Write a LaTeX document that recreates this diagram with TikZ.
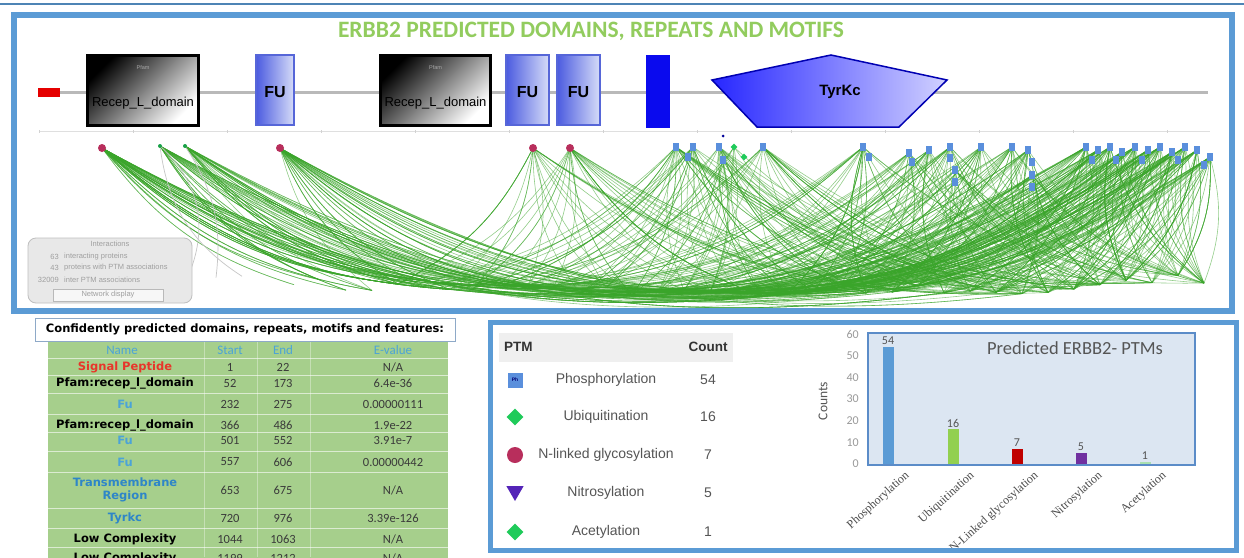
\documentclass[tikz,border=0pt]{standalone}
\usepackage{fontspec}
\setmainfont{Liberation Sans}
\newfontfamily\calfont{Carlito}
\newfontfamily\timesfont{Liberation Serif}
\newfontfamily\widefont{DejaVu Sans}
\usetikzlibrary{shapes.geometric}
\definecolor{frameblue}{HTML}{5B9BD5}
\definecolor{titlegreen}{HTML}{92CC5E}
\definecolor{netgreen}{HTML}{3AA52A}
\definecolor{tabgreen}{HTML}{A6CF8C}
\definecolor{lnkblue}{HTML}{4BA3D8}
\definecolor{tmblue}{HTML}{2E86C8}
\definecolor{sigred}{HTML}{E8352A}
\definecolor{numgray}{HTML}{3A3A3A}
\definecolor{ptmgray}{HTML}{555555}
\definecolor{hdrgray}{HTML}{EFEFEF}
\definecolor{plotfill}{HTML}{DCE6F2}
\definecolor{plotedge}{HTML}{5B8CC8}
\definecolor{barblue}{HTML}{5B9BD5}
\definecolor{bargreen}{HTML}{92D050}
\definecolor{barred}{HTML}{C00000}
\definecolor{barpurple}{HTML}{7030A0}
\definecolor{barlight}{HTML}{A9E0B0}
\definecolor{glyred}{HTML}{B82E5C}
\definecolor{phblue}{HTML}{5A8FDC}
\definecolor{ubgreen}{HTML}{1FCB5A}
\definecolor{tmrect}{HTML}{0A0AEE}
\definecolor{fuleft}{HTML}{4B5BE0}
\definecolor{furight}{HTML}{D6DCF8}
\definecolor{fuedge}{HTML}{5666D8}
\definecolor{capedge}{HTML}{8EA9C8}
\tikzset{
 topline/.style={draw=frameblue!85!black, line width=2pt},
 panel/.style={draw=frameblue, line width=6pt},
 ttlstyle/.style={text=titlegreen, font=\calfont\bfseries\fontsize{23.5pt}{24pt}\selectfont, inner sep=0pt},
 backbone/.style={draw=gray!55, line width=3pt},
 recep/.style={draw=black, line width=3pt, top color=black, bottom color=white, shading angle=45, minimum height=70pt, inner sep=0pt},
 fubox/.style={draw=fuedge, line width=2pt, left color=fuleft, right color=furight, minimum height=70pt, inner sep=0pt},
 domtxt/.style={inner sep=0pt, font=\fontsize{13pt}{13pt}\selectfont},
 futxt/.style={inner sep=0pt, font=\bfseries\fontsize{16pt}{16pt}\selectfont},
 pfamtxt/.style={inner sep=0pt, text=gray!70, font=\fontsize{5.5pt}{5.5pt}\selectfont},
 net/.style={draw=netgreen, opacity=0.55, line width=0.6pt},
 netgray/.style={draw=gray!45, line width=0.7pt},
 glymark/.style={circle, fill=glyred, minimum size=8pt, inner sep=0pt},
 ubmark/.style={circle, fill=ubgreen!80!black, minimum size=4pt, inner sep=0pt},
 phmark/.style={rectangle, fill=phblue, minimum width=6pt, minimum height=8pt, inner sep=0pt},
 dmmark/.style={diamond, fill=ubgreen, minimum size=7pt, inner sep=0pt},
 ibox/.style={draw=gray!50, fill=gray!18, rounded corners=8pt, line width=0.8pt},
 itxt/.style={inner sep=0pt, text=gray!75, font=\fontsize{7.5pt}{7.5pt}\selectfont},
 tabname/.style={inner sep=0pt, font=\widefont\bfseries\fontsize{11.5pt}{13pt}\selectfont, align=center},
 tabnum/.style={inner sep=0pt, text=numgray, font=\calfont\fontsize{12.5pt}{13pt}\selectfont},
 tabhdr/.style={inner sep=0pt, text=lnkblue, font=\calfont\fontsize{13pt}{13pt}\selectfont},
 ptmtxt/.style={inner sep=0pt, text=ptmgray, font=\fontsize{14pt}{14pt}\selectfont},
 ptmhdr/.style={inner sep=0pt, text=black!80, font=\bfseries\fontsize{13.5pt}{14pt}\selectfont},
 ticklab/.style={inner sep=0pt, anchor=east, text=gray!80, font=\calfont\fontsize{12pt}{12pt}\selectfont},
 barlab/.style={inner sep=0pt, text=ptmgray, font=\calfont\fontsize{12pt}{12pt}\selectfont},
 xlab/.style={inner sep=0pt, anchor=north east, rotate=42, text=black!70, font=\timesfont\fontsize{12pt}{12pt}\selectfont},
}
\begin{document}
\begin{tikzpicture}[x=1pt,y=-1pt]
\useasboundingbox (0,0) rectangle (1244,557);
\fill[white] (0,0) rectangle (1244,557);
\coordinate (tlL) at (0,4); \coordinate (tlR) at (1244,4);
\draw[topline] (tlL) -- (tlR);

% ---------- top panel ----------
\fill[white] (14,15) rectangle (1232,311);
\node[ttlstyle] (ttl) at (591,31) {ERBB2 PREDICTED DOMAINS, REPEATS AND MOTIFS};

% ruler
\coordinate (rulL) at (40,131); \coordinate (rulR) at (1210,131);
\draw[gray!25, line width=0.5pt] (rulL) -- (rulR);
\foreach \t in {39,133,...,1210} \draw[gray!35, line width=0.5pt] (\t,130) -- (\t,133);

% backbone
\coordinate (bbL) at (60,92); \coordinate (bbR) at (1208,92);
\draw[backbone] (bbL) -- (bbR);
\node[fill=red!90!black, minimum width=22pt, minimum height=9pt, inner sep=0pt] (sig) at (49,92) {};

\node[recep, minimum width=111pt] (rec1) at (143,90) {};
\node[pfamtxt] (pf1) at (143,68) {Pfam};
\node[domtxt] (rl1) at (143,103) {Recep\_L\_domain};
\node[recep, minimum width=110pt] (rec2) at (435.5,90) {};
\node[pfamtxt] (pf2) at (435.5,68) {Pfam};
\node[domtxt] (rl2) at (435.5,103) {Recep\_L\_domain};

\node[fubox, minimum width=38pt] (fu1) at (275,90) {};
\node[futxt] (fut1) at (275,92) {FU};
\node[fubox, minimum width=43pt] (fu2) at (527.5,90) {};
\node[futxt] (fut2) at (527.5,92) {FU};
\node[fubox, minimum width=43pt] (fu3) at (578.5,90) {};
\node[futxt] (fut3) at (578.5,92) {FU};

\node[fill=tmrect, minimum width=24pt, minimum height=73pt, inner sep=0pt] (tm) at (658,91.5) {};

\shade[left color=blue!85, right color=blue!18, draw=blue!70!black, line width=1.5pt]
  (712,80) -- (831,55) -- (947,80) -- (899,127) -- (757,127) -- cycle;
\node[futxt, font=\bfseries\fontsize{15pt}{15pt}\selectfont] (tyr) at (840,92) {TyrKc};

% ---------- network ----------
\pgfmathsetseed{1234}
\foreach \j in {1,...,40}{
  \pgfmathsetmacro\bx{190+26*(\j-1)}
  \pgfmathsetmacro\by{268+20*sin((\bx-150)*0.1565)+12*rnd}
  \coordinate (b\j) at (\bx,\by);
}
\foreach \i/\sx/\sy/\k/\lo/\hi in {
 1/102/148/64/5/27, 2/160/146/36/6/30, 3/185/146/36/7/30, 4/280/148/46/8/33,
 5/533/148/20/8/34, 6/570/148/28/9/36, 7/676/147/30/8/38, 8/693/147/24/9/38,
 9/719/147/22/10/40, 10/723/160/12/12/36, 11/734/147/8/14/38, 12/763/147/24/10/40,
 13/863/147/28/10/40, 14/909/153/20/12/40, 15/929/150/20/12/40, 16/950/147/22/12/40,
 17/955/170/16/16/40, 18/981/147/22/12/40, 19/1012/147/22/12/40, 20/1028/150/24/14/40,
 21/1032/175/20/16/40, 22/1086/147/28/10/40, 23/1098/150/26/10/40, 24/1110/147/28/12/40,
 25/1122/152/26/12/40, 26/1135/147/28/12/40, 27/1148/150/26/14/40, 28/1160/147/28/14/40,
 29/1172/152/26/16/40, 30/1185/147/26/16/40, 31/1197/150/26/18/40, 32/1210/157/28/20/40}{
  \coordinate (s\i) at (\sx,\sy);
  \foreach \m in {1,...,\k}{
    \pgfmathrandominteger{\jj}{\lo}{\hi}
    \pgfmathsetmacro\tx{190+26*(\jj-1)}
    \pgfmathsetmacro\bd{ifthenelse(\tx>\sx,18,-18)}
    \draw[net] (s\i) to[bend right=\bd] (b\jj);
  }
}
\draw[netgray] (s2) to[bend left=35] (b1);
\draw[netgray] (s3) to[bend left=20] (b2);
\draw[netgray] (s2) to[bend right=25] (b3);

% markers
\foreach \i in {1,4,5,6} \node[glymark] (g\i) at (s\i) {};
\foreach \i in {2,3} \node[ubmark] (u\i) at (s\i) {};
\foreach \i in {7,8,9,10,12,13,14,15,16,17,18,19,20,21,22,23,24,25,26,27,28,29,30,31,32}
  \node[phmark] (p\i) at (s\i) {};
\foreach \n/\x/\y in {e1/950/158, e2/1032/162, e3/1032/187, e4/955/182, e5/1092/160, e6/1116/160,
  e7/1142/160, e8/1178/160, e9/1204/165, e10/869/157, e11/688/157, e12/912/162}
  \node[phmark] (\n) at (\x,\y) {};
\node[dmmark] (d1) at (s11) {};
\node[dmmark] (d2) at (744,157) {};
\node[circle, fill=blue!60!black, minimum size=3pt, inner sep=0pt] (dd) at (723,136) {};

% interactions box
\node[ibox, minimum width=164pt, minimum height=65pt] (ibx) at (110,270.5) {};
\node[itxt] (it0) at (110,244) {Interactions};
\node[itxt, anchor=east] (in1) at (59,257) {63};
\node[itxt, anchor=west] (it1) at (64,257) {interacting proteins};
\node[itxt, anchor=east] (in2) at (59,268) {43};
\node[itxt, anchor=west] (it2) at (64,268) {proteins with PTM associations};
\node[itxt, anchor=east] (in3) at (59,280) {32009};
\node[itxt, anchor=west] (it3) at (64,280) {inter PTM associations};
\node[draw=gray!55, fill=gray!6, minimum width=110pt, minimum height=12pt, inner sep=0pt, itxt] (nbtn) at (108,295) {Network display};

\draw[panel] (14,15) rectangle (1232,311);

% ---------- bottom left ----------
\fill[tabgreen] (48,341) rectangle (448,560);
\foreach \yy in {358.5,375,393.5,414.5,432.5,451,472,508,528.5,547}
  \draw[white, opacity=0.6, line width=0.8pt] (48,\yy) -- (448,\yy);
\foreach \xx in {204,257,310}
  \draw[white, opacity=0.35, line width=0.6pt] (\xx,341) -- (\xx,557);
\node[draw=capedge, fill=white, minimum width=420pt, minimum height=23pt, inner sep=0pt,
  font=\widefont\bfseries\fontsize{11.5pt}{12pt}\selectfont] (cap) at (245,329.5)
  {Confidently predicted domains, repeats, motifs and features:};

\node[tabhdr] (h1) at (122,350) {Name};
\node[tabhdr] (h2) at (230,350) {Start};
\node[tabhdr] (h3) at (283,350) {End};
\node[tabhdr] (h4) at (393,350) {E-value};
\foreach \r/\y/\nm/\col/\st/\en/\ev in {
  1/367/Signal Peptide/sigred/1/22/N\slash A,
  2/383/Pfam:recep\_l\_domain/black/52/173/6.4e-36,
  3/404/Fu/lnkblue/232/275/0.00000111,
  4/425/Pfam:recep\_l\_domain/black/366/486/1.9e-22,
  5/440/Fu/lnkblue/501/552/3.91e-7,
  6/462/Fu/lnkblue/557/606/0.00000442,
  7/490/Transmembrane\\Region/tmblue/653/675/N\slash A,
  8/518/Tyrkc/tmblue/720/976/3.39e-126,
  9/539/Low Complexity/black/1044/1063/N\slash A,
  10/558/Low Complexity/black/1199/1212/N\slash A}{
  \node[tabname, text=\col] (rn\r) at (125,\y) {\nm};
  \node[tabnum] (rs\r) at (230,\y) {\st};
  \node[tabnum] (re\r) at (283,\y) {\en};
  \node[tabnum] (rv\r) at (393,\y) {\ev};
}

% ---------- bottom right ----------
\fill[white] (490,322) rectangle (1236,550);
\fill[hdrgray] (499,333) rectangle (733,362);
\node[ptmhdr, anchor=west] (ph0) at (504,347) {PTM};
\node[ptmhdr] (pc0) at (708,347) {Count};
\node[rectangle, fill=phblue, minimum size=15pt, inner sep=0pt, text=blue!45!black,
  font=\bfseries\fontsize{5pt}{5pt}\selectfont] (iph) at (515,380) {Ph};
\node[diamond, fill=ubgreen, minimum size=17pt, inner sep=0pt] (iub) at (515,417) {};
\node[circle, fill=glyred, minimum size=16pt, inner sep=0pt] (igl) at (515,455) {};
\node[regular polygon, regular polygon sides=3, shape border rotate=180, fill=barpurple!75!blue,
  minimum size=20pt, inner sep=0pt] (ini) at (515,491) {};
\node[diamond, fill=ubgreen, minimum size=17pt, inner sep=0pt] (iac) at (515,532) {};
\foreach \r/\y/\lab/\c in {1/380/Phosphorylation/54, 2/417/Ubiquitination/16,
  3/455/N-linked glycosylation/7, 4/493/Nitrosylation/5, 5/532/Acetylation/1}{
  \node[ptmtxt] (pl\r) at (606,\y) {\lab};
  \node[ptmtxt] (pn\r) at (708,\y) {\c};
}

% chart
\node[draw=plotedge, fill=plotfill, line width=1.5pt, minimum width=327pt, minimum height=132pt, inner sep=0pt] (plot) at (1031.5,399) {};
\foreach \v in {0,10,...,60}
  \node[ticklab] (yt\v) at (859,{464-\v*130/60}) {\v};
\node[rotate=90, text=ptmgray, inner sep=0pt, font=\calfont\fontsize{13.5pt}{14pt}\selectfont] (cnt) at (823,401) {Counts};
\node[text=ptmgray, inner sep=0pt, font=\calfont\fontsize{18.5pt}{19pt}\selectfont] (ctt) at (1075,348) {Predicted ERBB2- PTMs};
\foreach \n/\cx/\v/\col/\lab in {1/888/54/barblue/Phosphorylation, 2/953/16/bargreen/Ubiquitination,
  3/1017/7/barred/N-Linked glycosylation, 4/1081/5/barpurple/Nitrosylation, 5/1145/1/barlight/Acetylation}{
  \fill[\col] ({\cx-5.5},464) rectangle ({\cx+5.5},{464-\v*130/60});
  \node[barlab, anchor=south] (bv\n) at (\cx,{462-\v*130/60}) {\v};
  \node[xlab] (xl\n) at ({\cx+16},470) {\lab};
}
\draw[panel, line width=5pt] (490,322) rectangle (1236,550);
\end{tikzpicture}
\end{document}
